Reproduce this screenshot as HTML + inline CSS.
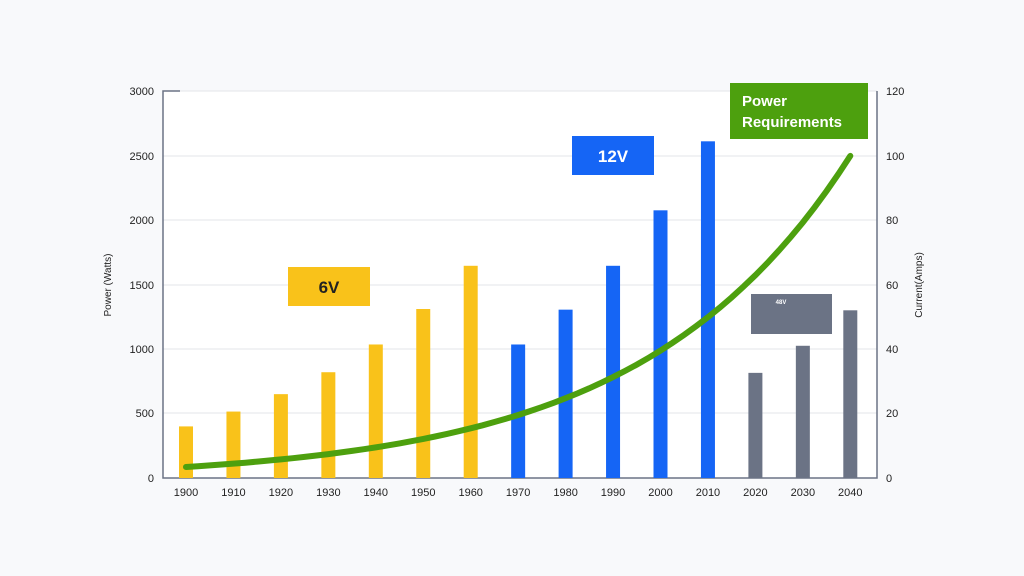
<!DOCTYPE html>
<html><head><meta charset="utf-8"><style>
html,body{margin:0;padding:0;background:#f8f9fb;}
svg{display:block;font-family:"Liberation Sans",sans-serif;}
</style></head><body>
<svg id="s" width="1024" height="576" viewBox="0 0 1024 576">
<rect width="1024" height="576" fill="#f8f9fb"/>
<rect x="163" y="91" width="714" height="387" fill="#ffffff"/>
<g stroke="#e3e5ea" stroke-width="1">
<line x1="163" x2="877" y1="156" y2="156"/><line x1="163" x2="877" y1="220" y2="220"/>
<line x1="163" x2="877" y1="285" y2="285"/><line x1="163" x2="877" y1="349" y2="349"/>
<line x1="163" x2="877" y1="413" y2="413"/><line x1="180" x2="877" y1="91" y2="91"/>
</g>
<g stroke="#6b7385" stroke-width="1.5" fill="none">
<polyline points="180,91 163,91 163,478 877,478 877,91"/>
</g>
<g id="bars"></g>
<polyline id="curve" fill="none" stroke="#4da00e" stroke-width="6" stroke-linecap="round"/>
<g font-size="11" fill="#222" text-anchor="end">
<text x="154" y="95">3000</text><text x="154" y="160">2500</text><text x="154" y="224">2000</text>
<text x="154" y="289">1500</text><text x="154" y="353">1000</text><text x="154" y="417">500</text><text x="154" y="482">0</text>
</g>
<g font-size="11" fill="#222">
<text x="886" y="95">120</text><text x="886" y="160">100</text><text x="886" y="224">80</text>
<text x="886" y="289">60</text><text x="886" y="353">40</text><text x="886" y="417">20</text><text x="886" y="482">0</text>
</g>
<g id="xl" font-size="11" fill="#222" text-anchor="middle"></g>
<text transform="translate(111,285) rotate(-90)" font-size="10" fill="#222" text-anchor="middle">Power (Watts)</text>
<text transform="translate(922,285) rotate(-90)" font-size="10" fill="#222" text-anchor="middle">Current(Amps)</text>
<rect x="288" y="267" width="82" height="39" fill="#f9c21a"/>
<text x="329" y="293" font-size="17" font-weight="bold" fill="#222" text-anchor="middle">6V</text>
<rect x="572" y="136" width="82" height="39" fill="#1565f5"/>
<text x="613" y="162" font-size="17" font-weight="bold" fill="#fff" text-anchor="middle">12V</text>
<rect x="730" y="83" width="138" height="56" fill="#4da00e"/>
<text x="742" y="106" font-size="15" font-weight="bold" fill="#fff">Power</text>
<text x="742" y="127" font-size="15" font-weight="bold" fill="#fff">Requirements</text>
<rect x="751" y="294" width="81" height="40" fill="#6b7385"/>
<text x="781" y="304" font-size="6" font-weight="bold" fill="#fff" text-anchor="middle">48V</text>
</svg>
<script>
var vals=[400,515,650,820,1035,1310,1645,1035,1305,1645,2075,2610,815,1025,1300];
var ns="http://www.w3.org/2000/svg",b=document.getElementById("bars"),xl=document.getElementById("xl");
for(var i=0;i<15;i++){var cx=186+i*47.45,h=vals[i]*387/3000;
var r=document.createElementNS(ns,"rect");r.setAttribute("x",cx-7);r.setAttribute("y",478-h);r.setAttribute("width",14);r.setAttribute("height",h);
r.setAttribute("fill",i<7?"#f9c21a":(i<12?"#1565f5":"#6b7385"));b.appendChild(r);
var t=document.createElementNS(ns,"text");t.setAttribute("x",cx);t.setAttribute("y",496);t.textContent=1900+i*10;xl.appendChild(t);}
var u=4.98,k=Math.log(u)/7,c=13.07,p=[];
for(var t2=0;t2<=14.001;t2+=0.25){var x=186+t2*47.45,h2=c*(Math.exp(k*t2)-1)+11;p.push(x.toFixed(1)+","+(478-h2).toFixed(1));}
document.getElementById("curve").setAttribute("points",p.join(" "));
</script>
</body></html>
